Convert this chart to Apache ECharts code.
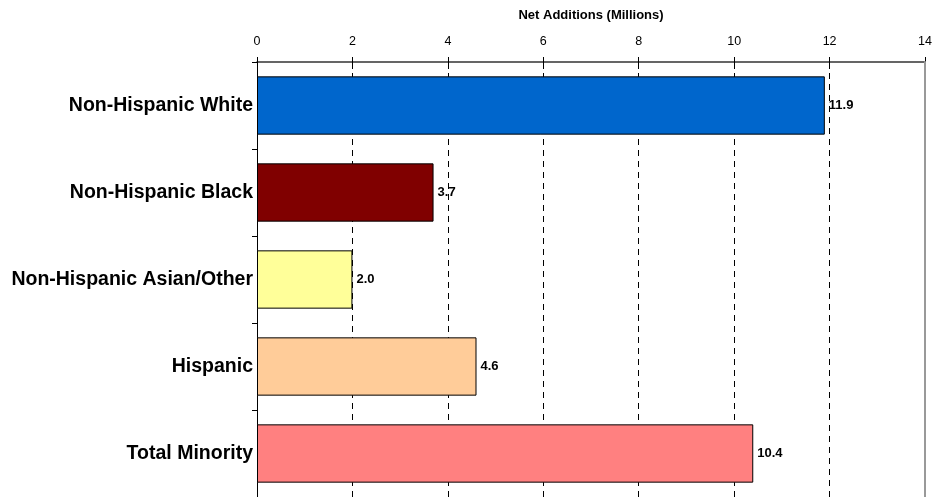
<!DOCTYPE html>
<html><head><meta charset="utf-8">
<script src="https://cdn.jsdelivr.net/npm/echarts@6/dist/echarts.min.js"></script>
<style>html,body{margin:0;padding:0;background:#fff}#c{width:935px;height:497px}</style>
</head><body><div id="c"></div>
<script>
const categories = ['Non-Hispanic White','Non-Hispanic Black','Non-Hispanic Asian/Other','Hispanic','Total Minority'];
const values = [11.9, 3.7, 2.0, 4.6, 10.4];
const barColors = ['#0066CC','#800000','#FFFF99','#FFCC99','#FF8080'];
const axisTitle = 'Net Additions (Millions)';

const chart = echarts.init(document.getElementById('c'));
const font = 'Liberation Sans, Arial, sans-serif';
chart.setOption({
  animation: false,
  textStyle: {fontFamily: font},
  grid: {left: 257, right: 8, top: 62, height: 437},
  xAxis: [{
    type: 'value', position: 'top', min: 0, max: 14, interval: 2,
    name: axisTitle, nameLocation: 'middle', nameGap: 40,
    nameTextStyle: {fontFamily: font, fontSize: 13, fontWeight: 'bold', color: '#000'},
    axisLine: {show: true, lineStyle: {color: '#333', width: 1.5}},
    axisTick: {show: true, length: 5, lineStyle: {color: '#000'}},
    axisLabel: {fontFamily: font, fontSize: 12.5, color: '#000', margin: 14},
    splitLine: {show: true, showMaxLine: false, lineStyle: {color: '#000', type: [6, 5], width: 1}}
  }, {
    type: 'value', position: 'top', min: 0, max: 14, interval: 2,
    axisLine: {show: false},
    axisTick: {show: true, inside: true, length: 7, lineStyle: {color: '#000'}},
    axisLabel: {show: false},
    splitLine: {show: false}
  }],
  yAxis: [{
    type: 'category', data: categories, inverse: true,
    axisLine: {show: true, onZero: false, lineStyle: {color: '#000', width: 1}},
    axisTick: {show: true, length: 5, lineStyle: {color: '#000'}},
    axisLabel: {fontFamily: font, fontSize: 19.5, fontWeight: 'bold', color: '#000', margin: 4}
  }, {
    type: 'category', data: categories, inverse: true, position: 'right', z: 10,
    axisLine: {show: true, onZero: false, lineStyle: {color: '#999', width: 2}},
    axisTick: {show: false}, axisLabel: {show: false}
  }],
  series: [{
    type: 'bar', xAxisIndex: 0, yAxisIndex: 0,
    data: values.map((v, i) => ({value: v, itemStyle: {color: barColors[i]}})),
    barCategoryGap: '33%',
    itemStyle: {borderColor: '#000', borderWidth: 1},
    label: {show: true, position: 'right', distance: 4, fontFamily: font, fontSize: 13, fontWeight: 'bold', color: '#000',
      formatter: p => p.value.toFixed(1)},
    z: 3
  }]
});
</script></body></html>
